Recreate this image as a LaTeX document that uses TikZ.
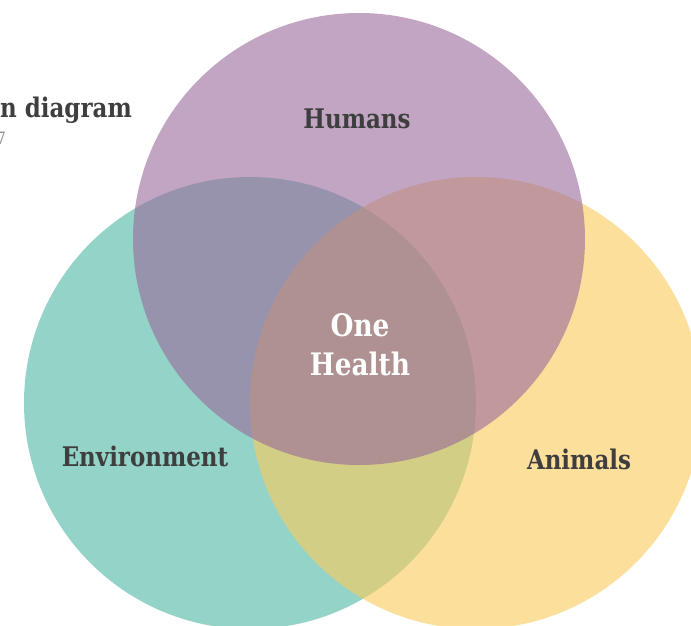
\documentclass[tikz,border=0pt]{standalone}
\usepackage{fontspec}
\newfontfamily\labfont{DejaVu Serif}[FakeStretch=0.85]
\definecolor{envcol}{RGB}{77,182,162}
\definecolor{anicol}{RGB}{252,203,90}
\definecolor{humcol}{RGB}{153,105,155}
\definecolor{txtdark}{RGB}{62,62,62}
\definecolor{txtgray}{RGB}{140,140,140}
\tikzset{
  venn/.style={fill opacity=0.6, draw=none},
  lab/.style={inner sep=0pt, anchor=base, text=txtdark, font=\labfont\bfseries\fontsize{27}{30}\selectfont},
  centerlab/.style={inner sep=0pt, anchor=base, text=white, font=\labfont\bfseries\fontsize{31}{34}\selectfont},
}
\begin{document}
\begin{tikzpicture}[x=1pt,y=-1pt]
\useasboundingbox (0,0) rectangle (691,625);
\fill[white] (0,0) rectangle (691,625);
% circles
\fill[venn, envcol] (250,403) circle[radius=226];
\fill[venn, anicol] (476,403) circle[radius=226];
\fill[venn, humcol] (359,239) circle[radius=226];
% title (cut at left edge)
\node[lab, anchor=base east] (title) at (132,117) {Venn diagram};
\node[inner sep=0pt, anchor=base east, text=txtgray, font=\labfont\fontsize{17}{19}\selectfont] (sub) at (6,144) {2017};
% labels
\node[lab] (hum) at (357,128) {Humans};
\node[lab] (env) at (145,466) {Environment};
\node[lab] (ani) at (579,469) {Animals};
\node[centerlab] (one) at (360,336) {One};
\node[centerlab] (health) at (360,375) {Health};
\end{tikzpicture}
\end{document}
